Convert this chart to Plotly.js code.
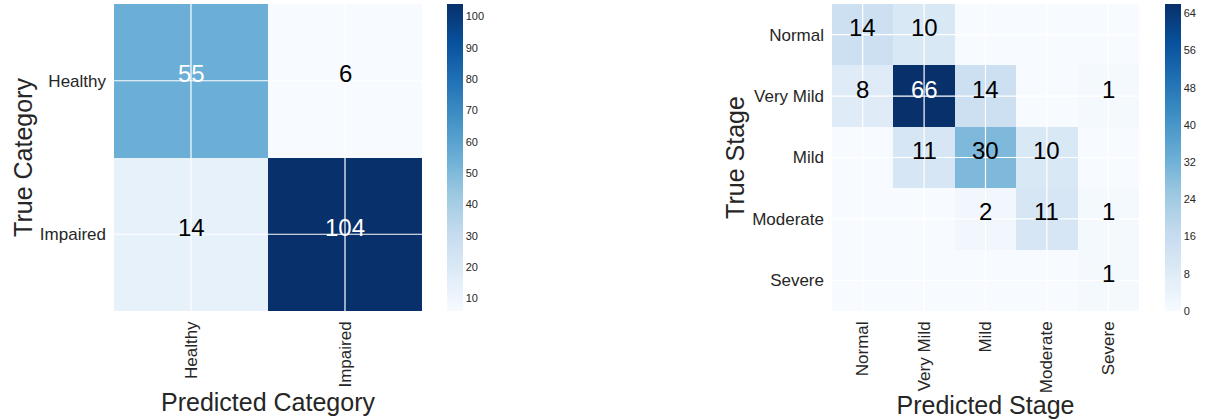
<!DOCTYPE html>
<html><head><meta charset="utf-8">
<script src="https://cdn.plot.ly/plotly-3.0.1.min.js"></script>
<style>html,body{margin:0;padding:0;background:#fff}#c{width:1210px;height:419px}</style>
</head><body><div id="c"></div>
<script>
const binCats = ["Healthy", "Impaired"];
const binValues = [[55, 6], [14, 104]];
const binTicks = [10, 20, 30, 40, 50, 60, 70, 80, 90, 100];
const stageCats = ["Normal", "Very Mild", "Mild", "Moderate", "Severe"];
const stageValues = [
  [14, 10, 0, 0, 0],
  [8, 66, 14, 0, 1],
  [0, 11, 30, 10, 0],
  [0, 0, 2, 11, 1],
  [0, 0, 0, 0, 1]
];
const stageTicks = [0, 8, 16, 24, 32, 40, 48, 56, 64];

const blues = [[0,'#f7fbff'],[0.125,'#deebf7'],[0.25,'#c6dbef'],[0.375,'#9ecae1'],[0.5,'#6baed6'],[0.625,'#4292c6'],[0.75,'#2171b5'],[0.875,'#08519c'],[1,'#08306b']];
const FONT = 'Liberation Sans, Arial, sans-serif';
const yDom = [1 - 311/419, 1 - 4/419];

function idx(n){return Array.from({length:n},(_, i)=>i);}
function flat(m){let a=[];m.forEach(r=>r.forEach(v=>a.push(v)));return a;}

function heat(vals, cats, xa, ya, cbx, ticks){
  const all = flat(vals);
  const zmin = Math.min(...all), zmax = Math.max(...all);
  return {
    type:'heatmap', z: vals, x: idx(cats.length), y: idx(cats.length),
    xaxis: xa, yaxis: ya, colorscale: blues, zmin: zmin, zmax: zmax,
    hoverinfo:'skip', xgap:0, ygap:0,
    colorbar:{x: cbx, xanchor:'left', xref:'paper', xpad:0, ypad:0, thickness:16,
      len: yDom[1]-yDom[0], lenmode:'fraction', y:(yDom[0]+yDom[1])/2, yanchor:'middle',
      outlinewidth:0, ticks:'', tickvals: ticks, tickfont:{family:FONT,size:11,color:'#262626'}}
  };
}

function annots(vals, xa, ya, showZero){
  const all = flat(vals);
  const thr = Math.max(...all)/2;
  const out = [];
  vals.forEach((row, i)=>row.forEach((v, j)=>{
    if(v===0 && !showZero) return;
    out.push({x:j, y:i, xref:xa, yref:ya, text:String(v), showarrow:false, yshift:7,
      font:{family:FONT, size:24, color: v>thr ? '#ffffff' : '#000000'}});
  }));
  return out;
}

function gridShapes(n, xa, ya){
  const s = [];
  idx(n).forEach(k=>{
    s.push({type:'line', xref:xa, yref:ya, x0:k, x1:k, y0:-0.5, y1:n-0.5, line:{color:'#ffffff', width:1.2}});
    s.push({type:'line', xref:xa, yref:ya, x0:-0.5, x1:n-0.5, y0:k, y1:k, line:{color:'#ffffff', width:1.2}});
  });
  return s;
}

function xax(dom, cats, title){
  return {domain: dom, tickvals: idx(cats.length), ticktext: cats, tickangle:-90, ticks:'',
    showgrid:false, zeroline:false, showline:false, range:[-0.5, cats.length-0.5],
    ticklabelstandoff:6,
    tickfont:{family:FONT,size:17,color:'#262626'},
    title:{text:title, font:{family:FONT,size:25,color:'#262626'}, standoff:4}};
}
function yax(dom, cats, title, anchor){
  return {domain: dom, anchor: anchor, tickvals: idx(cats.length), ticktext: cats, ticks:'',
    showgrid:false, zeroline:false, showline:false, range:[cats.length-0.5, -0.5],
    ticklabelstandoff:7,
    tickfont:{family:FONT,size:17,color:'#262626'},
    title:{text:title, font:{family:FONT,size:25,color:'#262626'}, standoff:0}};
}

const data = [
  heat(binValues, binCats, 'x', 'y', 447/1210, binTicks),
  heat(stageValues, stageCats, 'x2', 'y2', 1165/1210, stageTicks)
];

const layout = {
  width:1210, height:419, margin:{l:0,r:0,t:0,b:0}, paper_bgcolor:'#ffffff', plot_bgcolor:'#ffffff',
  showlegend:false, font:{family:FONT},
  xaxis: Object.assign(xax([114/1210, 422/1210], binCats, 'Predicted Category'), {anchor:'y'}),
  yaxis: yax(yDom, binCats, 'True Category', 'x'),
  xaxis2: Object.assign(xax([832/1210, 1139/1210], stageCats, 'Predicted Stage'), {anchor:'y2'}),
  yaxis2: yax(yDom, stageCats, 'True Stage', 'x2'),
  annotations: annots(binValues, 'x', 'y', true).concat(annots(stageValues, 'x2', 'y2', false)),
  shapes: gridShapes(binCats.length, 'x', 'y').concat(gridShapes(stageCats.length, 'x2', 'y2'))
};

Plotly.newPlot('c', data, layout, {staticPlot:true, displayModeBar:false});
</script>
</body></html>
